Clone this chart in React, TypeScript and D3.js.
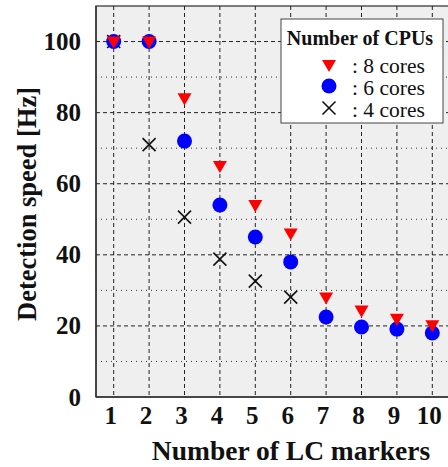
import React from "react";
import * as d3 from "d3";

const markers = [1, 2, 3, 4, 5, 6, 7, 8, 9, 10];
const cores8 = [100, 100, 84, 65, 54, 46, 28, 24.3, 22, 20.2];
const cores6 = [100, 100, 72, 54, 45, 38, 22.5, 19.7, 19.1, 18];
const cores4 = [100, 71, 50.6, 38.8, 32.6, 28.1];
const yTicks = [0, 20, 40, 60, 80, 100];
const yMinor = [10, 30, 50, 70, 90];
const legendLabels = [": 8 cores", ": 6 cores", ": 4 cores"];

const W = 448, H = 467;
const L = 96, T = 6, B = 397, R = 467.7;
const FONT = "'Liberation Serif', 'Times New Roman', serif";

export default function App() {
  const x = d3.scaleLinear().domain([0.5, 11]).range([L, R]);
  const y = d3.scaleLinear().domain([0, 110]).range([B, T]);
  const tri = d3.symbol().type(d3.symbolTriangle).size(85)();
  const s = 6.5;
  return (
    <svg width={W} height={H} style={{ position: "absolute", left: 0, top: 0 }}>
      <defs>
        <clipPath id="plotclip">
          <rect x={L} y={T} width={R - L} height={B - T} />
        </clipPath>
      </defs>
      <rect x={L} y={T} width={R - L} height={B - T} fill="#efefef" stroke="#555" strokeWidth={1.5} />
      <g clipPath="url(#plotclip)">
        {yTicks.slice(1).map((t) => (
          <line key={"ym" + t} x1={L} x2={R} y1={y(t)} y2={y(t)} stroke="#222" strokeWidth={1} strokeDasharray="4,3" />
        ))}
        {yMinor.map((t) => (
          <line key={"yn" + t} x1={L} x2={R} y1={y(t)} y2={y(t)} stroke="#333" strokeWidth={1} strokeDasharray="1,4" />
        ))}
        {markers.map((m) => (
          <line key={"xv" + m} x1={x(m)} x2={x(m)} y1={T} y2={B} stroke="#222" strokeWidth={1} strokeDasharray="4,3" />
        ))}
        {cores4.map((v, i) => (
          <g key={"c4" + i} transform={`translate(${x(markers[i])},${y(v)})`} stroke="#111" strokeWidth={1.6}>
            <line x1={-s} y1={-s} x2={s} y2={s} />
            <line x1={-s} y1={s} x2={s} y2={-s} />
          </g>
        ))}
        {cores6.map((v, i) => (
          <circle key={"c6" + i} cx={x(markers[i])} cy={y(v)} r={7.5} fill="#0000ff" />
        ))}
        {cores8.map((v, i) => (
          <path key={"c8" + i} d={tri!} transform={`translate(${x(markers[i])},${y(v) - 1}) rotate(180)`} fill="#ff0000" />
        ))}
      </g>
      <line x1={L} x2={L} y1={T} y2={B} stroke="#333" strokeWidth={1.5} />
      <line x1={L} x2={R} y1={B} y2={B} stroke="#333" strokeWidth={1.5} />
      {yTicks.map((t) => (
        <text key={"yt" + t} x={81} y={y(t) + 8.5} textAnchor="end" fontFamily={FONT} fontWeight="bold" fontSize={25} fill="#111">
          {t}
        </text>
      ))}
      {markers.map((m) => (
        <text key={"xt" + m} x={x(m) - 3} y={424} textAnchor="middle" fontFamily={FONT} fontWeight="bold" fontSize={25} fill="#111">
          {m}
        </text>
      ))}
      <text x={291} y={460} textAnchor="middle" fontFamily={FONT} fontWeight="bold" fontSize={27.5} fill="#111">
        Number of LC markers
      </text>
      <text transform={`translate(36,204) rotate(-90)`} textAnchor="middle" fontFamily={FONT} fontWeight="bold" fontSize={26.5} fill="#111">
        Detection speed [Hz]
      </text>
      <g>
        <rect x={281} y={19} width={162} height={104} fill="#fff" stroke="#444" strokeWidth={1} />
        <text x={360} y={45} textAnchor="middle" fontFamily={FONT} fontWeight="bold" fontSize={20} fill="#111">
          Number of CPUs
        </text>
        <path d={tri!} transform="translate(329,64) rotate(180)" fill="#ff0000" />
        <circle cx={329} cy={86} r={7.5} fill="#0000ff" />
        <g transform="translate(329,108)" stroke="#111" strokeWidth={1.6}>
          <line x1={-s} y1={-s} x2={s} y2={s} />
          <line x1={-s} y1={s} x2={s} y2={-s} />
        </g>
        {legendLabels.map((l, i) => (
          <text key={l} x={352} y={73 + i * 22} fontFamily={FONT} fontSize={21.5} fill="#111">
            {l}
          </text>
        ))}
      </g>
    </svg>
  );
}
